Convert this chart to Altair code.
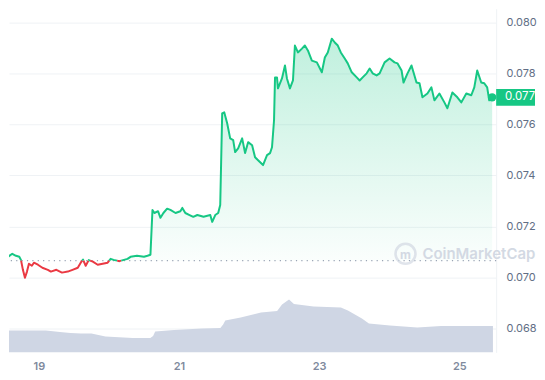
import altair as alt
import pandas as pd

# ---- data ----
days = [18.460, 18.52, 18.559, 18.62, 18.673, 18.72, 18.744, 18.772, 18.801, 18.83,
        18.858, 18.90, 18.929, 18.986, 19.05, 19.128, 19.171, 19.25, 19.33, 19.412,
        19.48, 19.555, 19.597, 19.63, 19.668, 19.711, 19.77, 19.839, 19.91, 19.981,
        20.024, 20.066, 20.15, 20.265, 20.308, 20.40, 20.50, 20.550, 20.592, 20.621,
        20.649, 20.70, 20.735, 20.777, 20.83, 20.877, 20.95, 21.019, 21.047, 21.090,
        21.15, 21.204, 21.261, 21.35, 21.446, 21.474, 21.517, 21.559, 21.588, 21.616,
        21.645, 21.687, 21.730, 21.773, 21.801, 21.844, 21.901, 21.943, 21.986, 22.043,
        22.085, 22.128, 22.199, 22.256, 22.299, 22.327, 22.356, 22.370, 22.398, 22.412,
        22.469, 22.512, 22.540, 22.583, 22.626, 22.654, 22.697, 22.754, 22.796, 22.839,
        22.896, 22.967, 23.038, 23.081, 23.123, 23.180, 23.223, 23.266, 23.309, 23.365,
        23.408, 23.465, 23.536, 23.578, 23.621, 23.678, 23.721, 23.763, 23.820, 23.863,
        23.934, 24.005, 24.076, 24.119, 24.176, 24.204, 24.261, 24.318, 24.389, 24.432,
        24.474, 24.545, 24.602, 24.645, 24.716, 24.787, 24.830, 24.901, 24.972, 25.029,
        25.100, 25.171, 25.214, 25.256, 25.313, 25.356, 25.398, 25.427, 25.469]

prices = [0.07085, 0.07089, 0.07081, 0.07093, 0.07085, 0.07081, 0.07069, 0.07030, 0.06999, 0.07023,
          0.07054, 0.07046, 0.07058, 0.07050, 0.07038, 0.07030, 0.07023, 0.07030, 0.07019, 0.07023,
          0.07030, 0.07038, 0.07058, 0.07070, 0.07046, 0.07068, 0.07062, 0.07050, 0.07054, 0.07058,
          0.07073, 0.07069, 0.07064, 0.07073, 0.07081, 0.07085, 0.07081, 0.07085, 0.07089, 0.07265,
          0.07253, 0.07260, 0.07234, 0.07253, 0.07270, 0.07265, 0.07253, 0.07260, 0.07273, 0.07253,
          0.07245, 0.07238, 0.07245, 0.07238, 0.07245, 0.07218, 0.07245, 0.07253, 0.07284, 0.07644,
          0.07648, 0.07605, 0.07546, 0.07539, 0.07492, 0.07507, 0.07546, 0.07488, 0.07531, 0.07519,
          0.07472, 0.07460, 0.07441, 0.07480, 0.07488, 0.07511, 0.07617, 0.07785, 0.07785, 0.07742,
          0.07781, 0.07832, 0.07781, 0.07742, 0.07773, 0.07910, 0.07883, 0.07898, 0.07910, 0.07891,
          0.07851, 0.07844, 0.07805, 0.07863, 0.07883, 0.07937, 0.07922, 0.07910, 0.07883, 0.07859,
          0.07840, 0.07805, 0.07785, 0.07773, 0.07785, 0.07801, 0.07820, 0.07801, 0.07793, 0.07801,
          0.07844, 0.07859, 0.07844, 0.07840, 0.07812, 0.07765, 0.07801, 0.07832, 0.07765, 0.07762,
          0.07707, 0.07722, 0.07746, 0.07695, 0.07722, 0.07687, 0.07664, 0.07726, 0.07707, 0.07687,
          0.07722, 0.07715, 0.07746, 0.07812, 0.07765, 0.07762, 0.07746, 0.07695, 0.07707]

vol_days = [18.46, 19.10, 19.30, 19.45, 19.60, 19.75, 19.95, 20.34, 20.59, 20.63,
            20.66, 20.93, 21.33, 21.59, 21.63, 21.66, 21.88, 22.17, 22.40, 22.47,
            22.57, 22.64, 22.92, 23.31, 23.41, 23.61, 23.71, 24.01, 24.40, 24.74,
            25.10, 25.48]
volumes = [440, 440, 410, 390, 380, 380, 320, 290, 290, 330,
           420, 450, 480, 490, 560, 640, 700, 800, 830, 960,
           1060, 970, 920, 900, 840, 680, 580, 540, 500, 530,
           530, 530]

baseline_price = 0.07066
x_ticks = [19, 21, 23, 25]
y_ticks = [0.068, 0.070, 0.072, 0.074, 0.076, 0.078, 0.080]
watermark = "CoinMarketCap"

GREEN = "#16c784"
RED = "#ea3943"
LABEL = "#616e85"
GRID = "#eff2f5"
FONT = "Inter"

W, H = 489, 345

# ---- tables ----
price_df = pd.DataFrame({"day": days, "price": prices})
price_df["top"] = price_df["price"].clip(lower=baseline_price)
price_df["base"] = baseline_price

rows, seg, prev = [], 0, None
for i in range(len(days) - 1):
    d0, p0, d1, p1 = days[i], prices[i], days[i + 1], prices[i + 1]
    pts = [(d0, p0)]
    if (p0 - baseline_price) * (p1 - baseline_price) < 0:
        t = (baseline_price - p0) / (p1 - p0)
        pts.append((d0 + t * (d1 - d0), baseline_price))
    pts.append((d1, p1))
    for a, b in zip(pts[:-1], pts[1:]):
        c = "up" if (a[1] + b[1]) / 2 >= baseline_price else "down"
        if c != prev:
            seg += 1
            prev = c
            rows.append({"day": a[0], "price": a[1], "dir": c, "seg": seg})
        rows.append({"day": b[0], "price": b[1], "dir": c, "seg": seg})
line_df = pd.DataFrame(rows)

last_df = pd.DataFrame({"day": [days[-1]], "price": [prices[-1]]})
last_df["lo"] = last_df["price"] - 0.00033
last_df["hi"] = last_df["price"] + 0.00033

vol_df = pd.DataFrame({"day": vol_days, "vol": volumes})

# ---- scales / axes ----
x_scale = alt.Scale(domain=[18.5734, 25.526], nice=False, zero=False)
y_scale = alt.Scale(domain=[0.06706, 0.080547], nice=False, zero=False)
x_axis = alt.Axis(values=x_ticks, format="d", title=None, grid=False, domain=False,
                  ticks=False, labelPadding=8, labelColor="#808a9d", labelFont=FONT,
                  labelFontSize=11, labelFontWeight=600)
y_axis = alt.Axis(orient="right", values=y_ticks, format=".3f", title=None, grid=True,
                  gridColor=GRID, gridWidth=1, domain=True, domainColor=GRID, ticks=False,
                  labelPadding=10, labelColor=LABEL, labelFont=FONT, labelFontSize=11)

X = alt.X("day:Q", scale=x_scale, axis=x_axis)

volume = alt.Chart(vol_df).mark_area(color="#cfd6e4", clip=True).encode(
    x=X,
    y=alt.Y("vol:Q", scale=alt.Scale(domain=[0, 6900], nice=False), axis=None),
)

grad = alt.Gradient(
    gradient="linear",
    stops=[alt.GradientStop(color="rgba(22,199,132,0.27)", offset=0),
           alt.GradientStop(color="rgba(22,199,132,0.02)", offset=1)],
    x1=0, x2=0, y1=0, y2=1,
)
area = alt.Chart(price_df).mark_area(color=grad, clip=True).encode(
    x=X,
    y=alt.Y("top:Q", scale=y_scale, axis=y_axis),
    y2="base:Q",
)

base_rule = alt.Chart(pd.DataFrame({"b": [baseline_price]})).mark_rule(
    color="#9aa4b5", strokeDash=[1.2, 4.2], strokeWidth=1.3
).encode(y=alt.Y("b:Q", scale=y_scale, axis=y_axis))

line = alt.Chart(line_df).mark_line(strokeWidth=2, clip=True, strokeJoin="round").encode(
    x=X,
    y=alt.Y("price:Q", scale=y_scale, axis=y_axis),
    color=alt.Color("dir:N", scale=alt.Scale(domain=["up", "down"], range=[GREEN, RED]), legend=None),
    detail="seg:N",
    order="day:Q",
)

dot = alt.Chart(last_df).mark_circle(size=70, color=GREEN, opacity=1).encode(
    x=X, y=alt.Y("price:Q", scale=y_scale, axis=y_axis)
)

box = alt.Chart(last_df).mark_rect(color=GREEN).encode(
    x=alt.value(W), x2=alt.value(528),
    y=alt.Y("lo:Q", scale=y_scale, axis=y_axis), y2="hi:Q",
)
box_text = alt.Chart(last_df).mark_text(
    color="white", font=FONT, fontSize=11.5, align="left", baseline="middle"
).encode(
    x=alt.value(498),
    y=alt.Y("price:Q", scale=y_scale, axis=y_axis),
    text=alt.Text("price:Q", format=".3f"),
)

wm_df = pd.DataFrame({"t": [watermark]})
wm_circle = alt.Chart(wm_df).mark_point(
    shape="circle", size=400, filled=False, color="#d3d9e3", strokeWidth=2.6
).encode(x=alt.value(398), y=alt.value(246))
wm_m = alt.Chart(wm_df).mark_text(
    text="m", font=FONT, fontSize=12, fontWeight=700, color="#d3d9e3",
    align="center", baseline="middle"
).encode(x=alt.value(398), y=alt.value(247))
wm_text = alt.Chart(wm_df).mark_text(
    font=FONT, fontSize=15, fontWeight=600, color="#d3d9e3", align="left", baseline="middle"
).encode(x=alt.value(415), y=alt.value(246), text="t:N")

price_layer = alt.layer(area, base_rule, wm_circle, wm_m, wm_text, line, dot, box, box_text)

chart = alt.layer(volume, price_layer).resolve_scale(y="independent").properties(
    width=W, height=H, padding=0
).configure_view(stroke=None)

chart.save("out.html", embed_options={"renderer": "svg", "actions": False})
